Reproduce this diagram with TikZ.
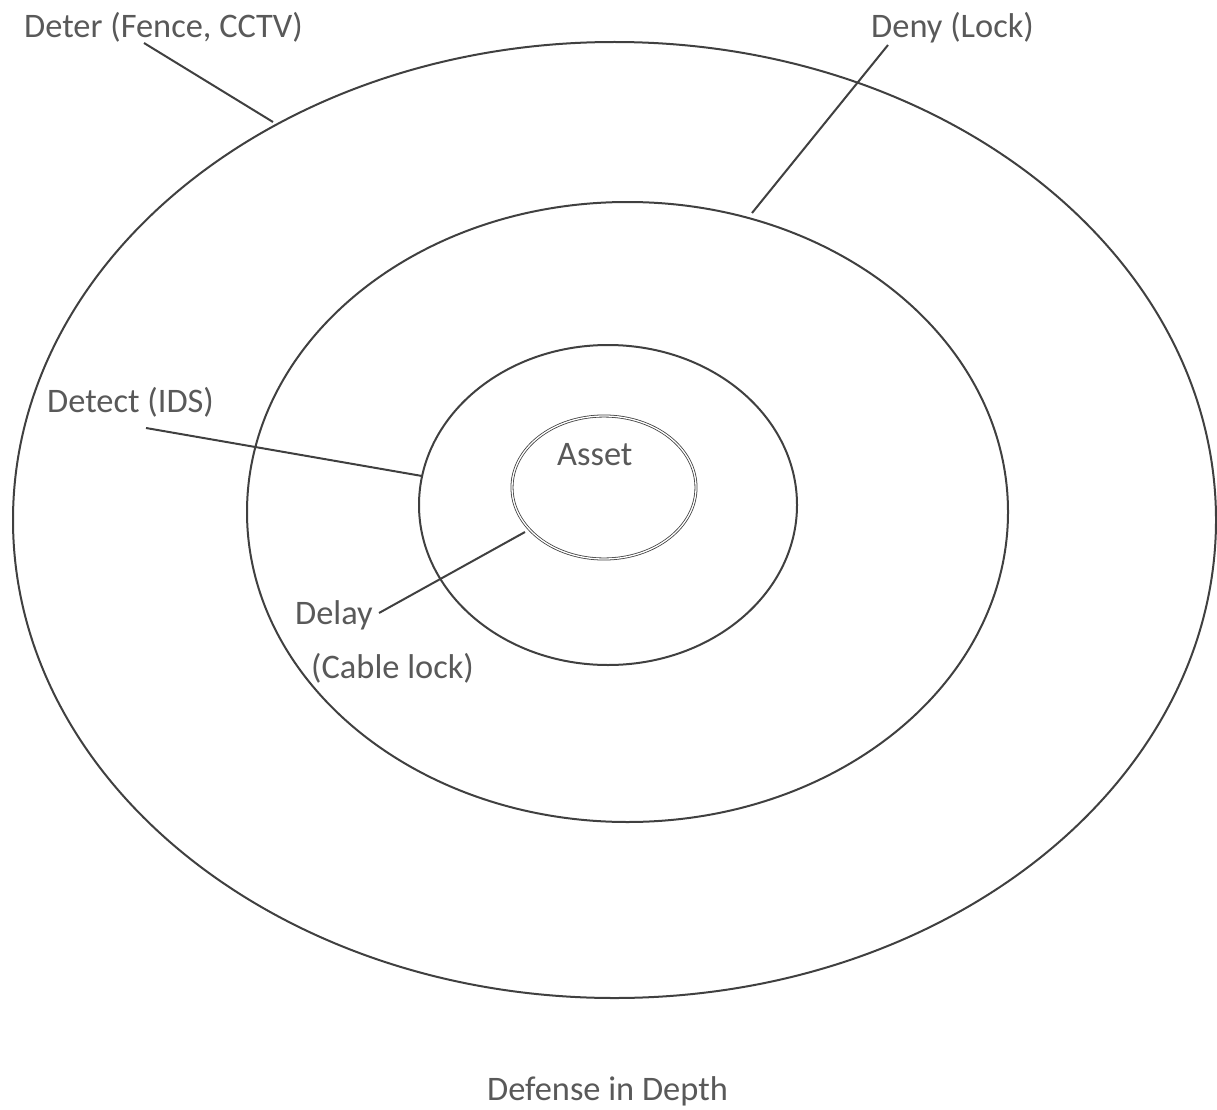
\documentclass[tikz,border=0pt]{standalone}
\usepackage{fontspec}
\setmainfont{Carlito}
\usetikzlibrary{shapes.geometric}
\definecolor{ringline}{HTML}{404040}
\definecolor{labeltext}{HTML}{595959}
\tikzset{
  ring/.style={ellipse, draw=ringline, line width=2pt, inner sep=0pt},
  lead/.style={draw=ringline, line width=2pt},
  lbl/.style={text=labeltext, inner sep=0pt, anchor=base west, font=\fontsize{34.4}{41}\selectfont},
}
\begin{document}
\begin{tikzpicture}[x=1pt,y=-1pt]
\useasboundingbox (0,0) rectangle (1217,1110);
% rings
\node[ring, minimum width=1203pt, minimum height=956pt] (deter) at (614.5,520) {};
\node[ring, minimum width=761pt, minimum height=620pt] (deny) at (627.5,512) {};
\node[ring, minimum width=378pt, minimum height=320pt] (detect) at (608,505) {};
\node[ring, line width=0.8pt, double=white, double distance=1.3pt, minimum width=184pt, minimum height=143pt] (asset) at (604,487.5) {};
% labels
\node[lbl] (deterlbl) at (24,37.5) {Deter (Fence, CCTV)};
\node[lbl] (denylbl) at (871,37.5) {Deny (Lock)};
\node[lbl] (detectlbl) at (47,412) {Detect (IDS)};
\node[lbl] (assetlbl) at (557,465) {Asset};
\node[lbl] (delaylbl) at (295,624) {Delay};
\node[lbl] (cablelbl) at (311,678) {(Cable lock)};
\node[lbl] (title) at (487,1100) {Defense in Depth};
% leader lines
\coordinate (deterA) at (144,43);
\coordinate (deterB) at (273,122);
\coordinate (denyA) at (888,45);
\coordinate (denyB) at (752,213);
\coordinate (detectA) at (146,428);
\coordinate (detectB) at (422,476);
\coordinate (delayA) at (379,613);
\coordinate (delayB) at (525,532);
\draw[lead] (deterA) -- (deterB);
\draw[lead] (denyA) -- (denyB);
\draw[lead] (detectA) -- (detectB);
\draw[lead] (delayA) -- (delayB);
\end{tikzpicture}
\end{document}
